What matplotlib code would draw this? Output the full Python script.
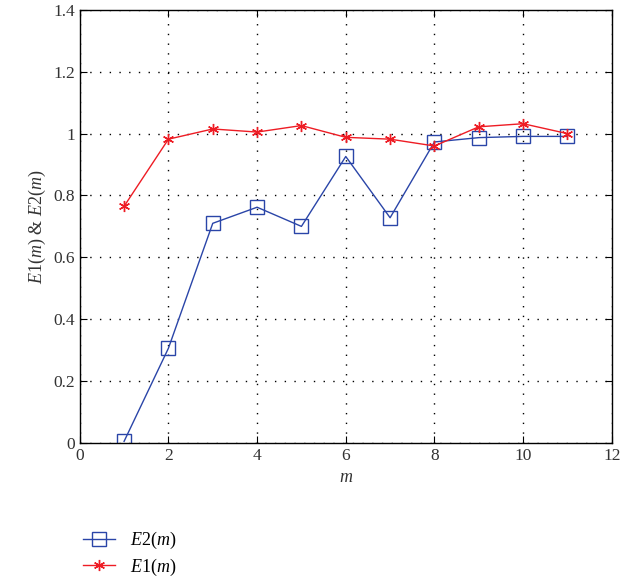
import matplotlib.pyplot as plt

plt.rcParams['font.family'] = 'Liberation Serif'
plt.rcParams['mathtext.fontset'] = 'custom'
plt.rcParams['mathtext.it'] = 'Liberation Serif:italic'
plt.rcParams['mathtext.rm'] = 'Liberation Serif'

m = [1, 2, 3, 4, 5, 6, 7, 8, 9, 10, 11]
e2 = [0.005, 0.306, 0.71, 0.762, 0.70, 0.926, 0.728, 0.973, 0.987, 0.991, 0.991]
e1 = [0.765, 0.982, 1.015, 1.005, 1.026, 0.988, 0.982, 0.96, 1.022, 1.032, 1.0]

fig = plt.figure(figsize=(6.23, 5.82), dpi=100)
ax = fig.add_axes([0.128, 0.239, 0.854, 0.744])

ax.plot(m, e2, color='#2a45a8', lw=1, marker='s', markersize=10,
        markerfacecolor='none', markeredgecolor='#2a45a8', markeredgewidth=1,
        label='$E2(m)$')
ax.plot(m, e1, color='#ee1c24', lw=1, marker=(6, 2, 0), markersize=8,
        markeredgecolor='#ee1c24', markeredgewidth=1, label='$E1(m)$')

ax.set_xlim(0, 12)
ax.set_ylim(0, 1.4)
ax.set_xticks([0, 2, 4, 6, 8, 10, 12])
ax.set_yticks([0, 0.2, 0.4, 0.6, 0.8, 1.0, 1.2, 1.4])
ax.set_yticklabels(['0', '0.2', '0.4', '0.6', '0.8', '1', '1.2', '1.4'])
ax.tick_params(direction='in', top=True, right=True, labelsize=12.5,
               labelcolor='#333333', length=5)
ax.grid(True, linestyle=(0, (1, 6)), color='black', lw=1)
for s in ax.spines.values():
    s.set_linewidth(1)

ax.set_xlabel('$m$', fontsize=13, color='#333333')
ax.set_ylabel('$E1(m)$ & $E2(m)$', fontsize=13, color='#333333')

handles, labels = ax.get_legend_handles_labels()
fig.legend(handles, labels, loc='upper left', bbox_to_anchor=(0.107, 0.117),
           frameon=False, fontsize=13, handlelength=1.8, labelspacing=0.3)

fig.savefig('out.png', dpi=100)
